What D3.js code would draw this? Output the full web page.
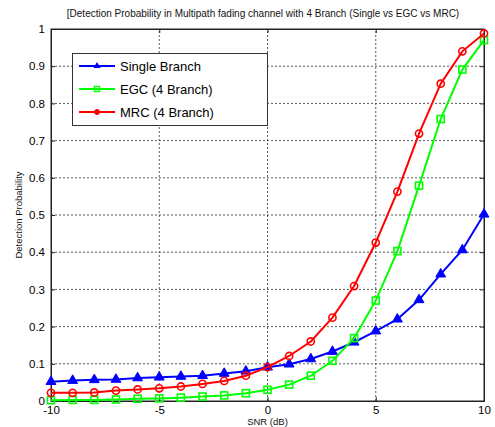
<!DOCTYPE html>
<html>
<head>
<meta charset="utf-8">
<script src="https://cdn.jsdelivr.net/npm/d3@7"></script>
<style>
  body { margin: 0; background: #fff; }
  svg { display: block; font-family: Arial, "Liberation Sans", sans-serif; }
</style>
</head>
<body>
<div id="chart"></div>
<script>
// data
const snr = [-10, -9, -8, -7, -6, -5, -4, -3, -2, -1, 0, 1, 2, 3, 4, 5, 6, 7, 8, 9, 10];
const single = [0.052, 0.055, 0.057, 0.058, 0.062, 0.064, 0.066, 0.068, 0.074, 0.080, 0.091, 0.099, 0.113, 0.133, 0.158, 0.188, 0.220, 0.272, 0.341, 0.406, 0.502];
const egc = [0.002, 0.003, 0.003, 0.004, 0.006, 0.007, 0.009, 0.012, 0.015, 0.021, 0.030, 0.044, 0.068, 0.108, 0.169, 0.270, 0.403, 0.579, 0.758, 0.891, 0.970];
const mrc = [0.022, 0.022, 0.023, 0.028, 0.031, 0.034, 0.039, 0.046, 0.054, 0.068, 0.091, 0.121, 0.160, 0.224, 0.309, 0.426, 0.563, 0.719, 0.853, 0.940, 0.988];
const xTicks = [-10, -5, 0, 5, 10];
const yTicks = [0, 0.1, 0.2, 0.3, 0.4, 0.5, 0.6, 0.7, 0.8, 0.9, 1];

const width = 495, height = 427;
const margin = { top: 29, right: 11, bottom: 26, left: 51 };
const iw = width - margin.left - margin.right;
const ih = height - margin.top - margin.bottom;

const svg = d3.select("#chart").append("svg")
  .attr("width", width)
  .attr("height", height);

const x = d3.scaleLinear().domain([-10, 10]).range([margin.left, margin.left + iw]);
const y = d3.scaleLinear().domain([0, 1]).range([margin.top + ih, margin.top]);

// grid
const grid = svg.append("g").attr("stroke", "#333").attr("stroke-width", 0.8).attr("stroke-dasharray", "2,2");
grid.selectAll(".gx").data(xTicks.slice(1, -1)).enter().append("line")
  .attr("x1", d => x(d)).attr("x2", d => x(d))
  .attr("y1", y(0)).attr("y2", y(1));
grid.selectAll(".gy").data(yTicks.slice(1, -1)).enter().append("line")
  .attr("x1", x(-10)).attr("x2", x(10))
  .attr("y1", d => y(d)).attr("y2", d => y(d));

// axes (ticks inward, labels outside)
svg.append("g").attr("transform", `translate(0,${y(0)})`)
  .call(d3.axisBottom(x).tickValues(xTicks).tickSize(-4).tickPadding(5).tickFormat(d => String(d)));
svg.append("g").attr("transform", `translate(${x(-10)},0)`)
  .call(d3.axisLeft(y).tickValues(yTicks).tickSize(-4).tickPadding(6).tickFormat(d => d === 0 || d === 1 ? d : d3.format(".1f")(d)));
svg.append("g").attr("transform", `translate(0,${y(1)})`)
  .call(d3.axisTop(x).tickValues(xTicks).tickSize(-4).tickFormat(""));
svg.append("g").attr("transform", `translate(${x(10)},0)`)
  .call(d3.axisRight(y).tickValues(yTicks).tickSize(-4).tickFormat(""));
svg.selectAll(".domain").attr("stroke", "#222");
svg.selectAll(".tick line").attr("stroke", "#222");
svg.selectAll(".tick text").attr("font-size", 11.5).attr("fill", "#000");
svg.append("rect")
  .attr("x", x(-10)).attr("y", y(1))
  .attr("width", iw).attr("height", ih)
  .attr("fill", "none").attr("stroke", "#222").attr("stroke-width", 1);

// series
const series = [
  { name: "Single Branch", values: single, color: "#0000ff", marker: "triangle" },
  { name: "EGC (4 Branch)", values: egc, color: "#00ff00", marker: "square" },
  { name: "MRC (4 Branch)", values: mrc, color: "#ff0000", marker: "circle" }
];

const line = d3.line().x(d => x(d[0])).y(d => y(d[1]));

function drawMarker(g, marker, color, cx, cy) {
  if (marker === "triangle") {
    g.append("path")
      .attr("d", d3.symbol(d3.symbolTriangle, 42)())
      .attr("transform", `translate(${cx},${cy})`)
      .attr("fill", color).attr("stroke", color).attr("stroke-width", 1);
  } else if (marker === "square") {
    g.append("rect")
      .attr("x", cx - 3.5).attr("y", cy - 3.5)
      .attr("width", 7).attr("height", 7)
      .attr("fill", "none").attr("stroke", color).attr("stroke-width", 1.6);
  } else {
    g.append("circle")
      .attr("cx", cx).attr("cy", cy).attr("r", 3.6)
      .attr("fill", "none").attr("stroke", color).attr("stroke-width", 1.6);
  }
}

const plot = svg.append("g");
series.forEach(s => {
  const pts = snr.map((v, i) => [v, s.values[i]]);
  plot.append("path")
    .datum(pts)
    .attr("d", line)
    .attr("fill", "none")
    .attr("stroke", s.color)
    .attr("stroke-width", 2);
  const mg = plot.append("g");
  pts.forEach(p => drawMarker(mg, s.marker, s.color, x(p[0]), y(p[1])));
});

// legend
const legend = svg.append("g");
legend.append("rect")
  .attr("x", 72.5).attr("y", 53.5).attr("width", 195).attr("height", 72)
  .attr("fill", "#fff").attr("stroke", "#333").attr("stroke-width", 1);
series.forEach((s, i) => {
  const ly = 66 + i * 23;
  legend.append("line")
    .attr("x1", 79).attr("x2", 115).attr("y1", ly).attr("y2", ly)
    .attr("stroke", s.color).attr("stroke-width", 2);
  if (s.marker === "triangle") {
    legend.append("path").attr("d", d3.symbol(d3.symbolTriangle, 22)())
      .attr("transform", `translate(97,${ly})`).attr("fill", s.color);
  } else if (s.marker === "square") {
    legend.append("rect").attr("x", 94.5).attr("y", ly - 2.5).attr("width", 5).attr("height", 5)
      .attr("fill", "none").attr("stroke", s.color).attr("stroke-width", 1.4);
  } else {
    legend.append("circle").attr("cx", 97).attr("cy", ly).attr("r", 2.5)
      .attr("fill", s.color).attr("stroke", s.color);
  }
  legend.append("text")
    .attr("x", 120).attr("y", ly + 4.5)
    .attr("font-size", 13).attr("fill", "#000")
    .text(s.name);
});

// title and labels
svg.append("text")
  .attr("x", 263).attr("y", 17)
  .attr("text-anchor", "middle").attr("font-size", 10).attr("fill", "#111")
  .text("[Detection Probability in Multipath fading channel with 4 Branch (Single vs EGC vs MRC)");
svg.append("text")
  .attr("x", x(0)).attr("y", 425)
  .attr("text-anchor", "middle").attr("font-size", 9.5).attr("fill", "#111")
  .text("SNR (dB)");
svg.append("text")
  .attr("transform", `translate(22,${y(0.5)}) rotate(-90)`)
  .attr("text-anchor", "middle").attr("font-size", 9.5).attr("fill", "#111")
  .text("Detection Probability");
</script>
</body>
</html>
